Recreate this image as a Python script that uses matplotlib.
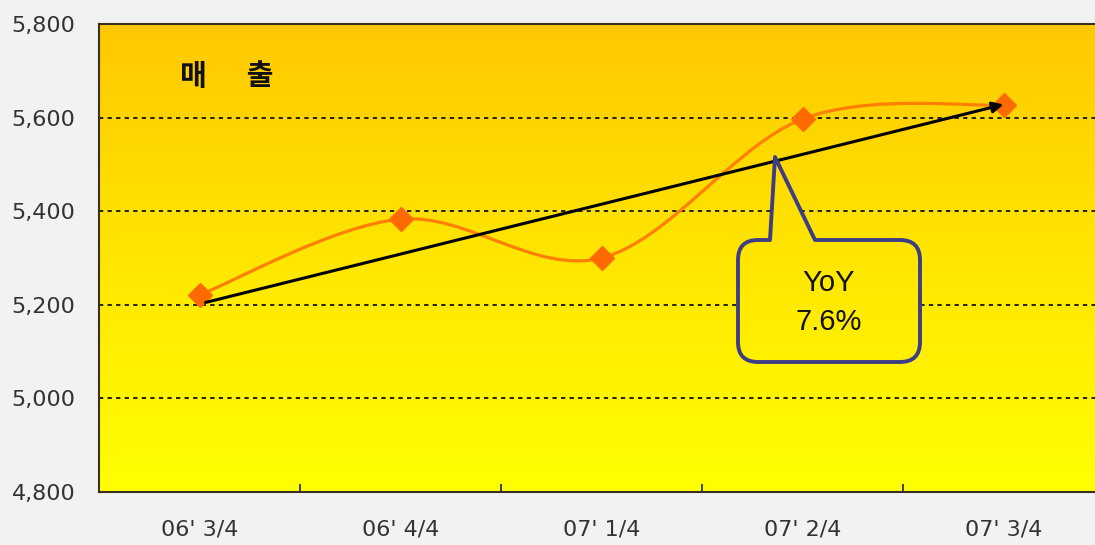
import numpy as np
import matplotlib
matplotlib.use("Agg")
import matplotlib.pyplot as plt
from matplotlib.path import Path
from matplotlib.patches import PathPatch
from matplotlib.colors import LinearSegmentedColormap
from matplotlib.transforms import Affine2D

# data
quarters = ["06' 3/4", "06' 4/4", "07' 1/4", "07' 2/4", "07' 3/4"]
sales = [5221, 5383, 5300, 5597, 5627]
trend_start = 5205
trend_end = 5628
yticks = [4800, 5000, 5200, 5400, 5600, 5800]
title = "매      출"
callout_lines = ["YoY", "7.6%"]

W, H = 1095, 545
fig = plt.figure(figsize=(W / 100, H / 100), dpi=100, facecolor="#f2f2f2")
ax = fig.add_axes([99 / W, 1 - 492 / H, 1005 / W, 468 / H])

# orange -> yellow background
bg_cmap = LinearSegmentedColormap.from_list("bg", ["#ffff00", "#ffe600", "#ffc800"])
grad = np.linspace(0, 1, 256).reshape(-1, 1)
ext = [-0.5, len(quarters) - 0.5, yticks[0], yticks[-1]]
ax.imshow(grad, extent=ext, origin="lower", aspect="auto", cmap=bg_cmap, zorder=0)

ax.set_xlim(ext[0], ext[1])
ax.set_ylim(yticks[0], yticks[-1])

# dotted gridlines
for v in yticks[1:-1]:
    ax.axhline(v, color="#222222", lw=1.4, ls=(0, (2.2, 2.2)), zorder=1)

# smooth line through the points (cubic bezier, catmull-rom style)
x = np.arange(len(sales), dtype=float)
y = np.array(sales, dtype=float)
pts = np.column_stack([x, y])
verts = [pts[0]]
codes = [Path.MOVETO]
n = len(pts)
for i in range(n - 1):
    p0 = pts[max(i - 1, 0)]
    p1 = pts[i]
    p2 = pts[i + 1]
    p3 = pts[min(i + 2, n - 1)]
    c1 = p1 + (p2 - p0) / 6
    c2 = p2 - (p3 - p1) / 6
    verts += [c1, c2, p2]
    codes += [Path.CURVE4] * 3
ax.add_patch(PathPatch(Path(verts, codes), fill=False, ec="#ff8000", lw=2.3, zorder=3))
ax.plot(x, y, ls="none", marker="D", ms=12, color="#ff6a00", zorder=4)

# trend arrow
ax.annotate("", xy=(x[-1], trend_end), xytext=(x[0] + 0.03, trend_start),
            arrowprops=dict(arrowstyle="-|>", color="black", lw=2.2,
                            mutation_scale=16, shrinkA=0, shrinkB=0),
            zorder=5)

# callout shape (pixel coords of the reference)
to_fig = Affine2D().scale(1 / W, -1 / H).translate(0, 1) + fig.transFigure
L, R, T, B, r = 738, 920, 240, 362, 20
cv = [(770, T), (775, 157), (815, T), (R - r, T), (R, T), (R, T + r), (R, B - r),
      (R, B), (R - r, B), (L + r, B), (L, B), (L, B - r), (L, T + r), (L, T),
      (L + r, T), (770, T)]
cc = [Path.MOVETO, Path.LINETO, Path.LINETO, Path.LINETO, Path.CURVE3, Path.CURVE3,
      Path.LINETO, Path.CURVE3, Path.CURVE3, Path.LINETO, Path.CURVE3, Path.CURVE3,
      Path.LINETO, Path.CURVE3, Path.CURVE3, Path.CLOSEPOLY]
box = PathPatch(Path(cv, cc), transform=to_fig, fc="none", ec="#3d3d85", lw=2.8,
                joinstyle="round", zorder=7)
ax.add_patch(box)
fill = ax.imshow(grad, extent=ext, origin="lower", aspect="auto", cmap=bg_cmap, zorder=6)
fill.set_clip_path(box)
for line, py in zip(callout_lines, [283, 322]):
    fig.text(829 / W, 1 - py / H, line, ha="center", va="center", fontsize=21,
             family="Liberation Sans", color="#111111", zorder=8)

# title
fig.text(180 / W, 1 - 76 / H, title, ha="left", va="center", fontsize=21,
         fontweight="bold", family="Noto Sans CJK KR", color="#111111")

# axes styling
ax.set_yticks(yticks)
ax.set_yticklabels([f"{v:,}" for v in yticks])
ax.set_xticks(x)
ax.set_xticklabels(quarters)
ax.set_xticks(x[:-1] + 0.5, minor=True)
ax.tick_params(axis="y", length=0, pad=17, labelsize=16, labelcolor="#333333")
ax.tick_params(axis="x", which="major", length=0, pad=20, labelsize=16,
               labelcolor="#333333")
ax.tick_params(axis="x", which="minor", direction="in", length=6, width=1.3,
               color="#333333")
for lab in ax.get_xticklabels() + ax.get_yticklabels():
    lab.set_family("DejaVu Sans")
for s in ax.spines.values():
    s.set_color("#3a3020")
    s.set_linewidth(1.5)

fig.savefig("out.png", dpi=100, facecolor=fig.get_facecolor())
